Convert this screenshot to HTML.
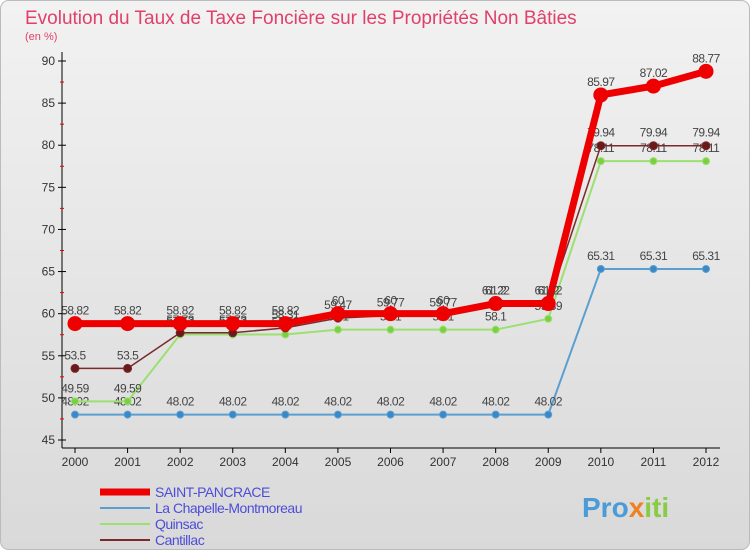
<!DOCTYPE html>
<html><head><meta charset="utf-8"><style>
body{margin:0;width:750px;height:550px;overflow:hidden;font-family:"Liberation Sans",sans-serif}
</style></head><body>
<svg width="750" height="550" xmlns="http://www.w3.org/2000/svg">
<defs><linearGradient id="bg" x1="0" y1="0" x2="0" y2="1"><stop offset="0" stop-color="#f2f2f2"/><stop offset="1" stop-color="#d9d9d9"/></linearGradient></defs>
<rect x="0.5" y="0.5" width="749" height="549" rx="8" fill="url(#bg)" stroke="#bbb"/>
<text x="25" y="24" font-size="19" fill="#e0406a">Evolution du Taux de Taxe Foncière sur les Propriétés Non Bâties</text>
<text x="25" y="40" font-size="11" fill="#e0406a">(en %)</text>
<g id="axes"></g><g id="series"></g><g id="legend"></g>
<text x="582" y="517" font-size="28" font-weight="bold" fill="#4a9bd8">Pro<tspan fill="#f08020">x</tspan><tspan fill="#8c4">iti</tspan></text>
</svg>
<script>
const years=[2000,2001,2002,2003,2004,2005,2006,2007,2008,2009,2010,2011,2012];
const yTicks=[45,50,55,60,65,70,75,80,85,90];
const saint=[58.82,58.82,58.82,58.82,58.82,60,60,60,61.2,61.2,85.97,87.02,88.77];
const chapelle=[48.02,48.02,48.02,48.02,48.02,48.02,48.02,48.02,48.02,48.02,65.31,65.31,65.31];
const quinsac=[49.59,49.59,57.52,57.52,57.52,58.1,58.1,58.1,58.1,59.39,78.11,78.11,78.11];
const cantillac=[53.5,53.5,57.73,57.73,58.31,59.47,59.77,59.77,61.22,61.22,79.94,79.94,79.94];
const NS="http://www.w3.org/2000/svg";
const X=i=>75+i*(631/12), Y=v=>440-(v-45)*(379/45);
function mk(t,a,p){const e=document.createElementNS(NS,t);for(const k in a)e.setAttribute(k,a[k]);p.appendChild(e);return e;}
const ax=document.getElementById('axes');
let l=mk('line',{x1:62,y1:52,x2:62,y2:448,stroke:'#000'},ax);


l=mk('line',{x1:62,y1:448,x2:720,y2:448,stroke:'#000'},ax);


yTicks.forEach(v=>{
 mk('line',{x1:58,y1:Y(v),x2:66,y2:Y(v),stroke:'#000'},ax);
 if(v<90)mk('line',{x1:60,y1:Y(v+2.5),x2:64,y2:Y(v+2.5),stroke:'#e00'},ax);
 const t=mk('text',{x:55,y:Y(v)+4,'font-size':12,'text-anchor':'end',fill:'#333'},ax);t.textContent=v;
 
 
});
years.forEach((y,i)=>{
 mk('line',{x1:X(i),y1:448,x2:X(i),y2:453,stroke:'#000'},ax);
 const t=mk('text',{x:X(i),y:466,'font-size':12,'text-anchor':'middle',fill:'#333'},ax);t.textContent=y;
 
 
});
const sg=document.getElementById('series');
function series(d,c,w,r,name,fill){
 const g=mk('g',{},sg);
 
 
 mk('polyline',{points:d.map((v,i)=>X(i)+','+Y(v)).join(' '),fill:'none',stroke:c,'stroke-width':w},g);
 d.forEach((v,i)=>{
  const p=mk('circle',{cx:X(i),cy:Y(v),r:r,fill:fill,stroke:c},g);
  
  
  const t=mk('text',{x:X(i),y:Y(v)-9,'font-size':12,'text-anchor':'middle',fill:'#444','letter-spacing':'-0.5'},g);t.textContent=v;
 });
}
series(chapelle,'#5b9fd0',2,3.5,'la-chapelle-series','#3a88c8');
series(quinsac,'#9be070',2,3.5,'quinsac-series','#7ad040');
series(cantillac,'#7a2a2a',1.5,4,'cantillac-series','#6a1a1a');
series(saint,'#ee0000',7,7,'saint-pancrace-series','#ee0000');
const lg=document.getElementById('legend');
[['SAINT-PANCRACE','#ee0000',7],['La Chapelle-Montmoreau','#5b9fd0',2],['Quinsac','#9be070',2],['Cantillac','#7a2a2a',2]].forEach((e,i)=>{
 const y=492+i*16;
 const g=mk('g',{},lg);
 
 
 mk('line',{x1:100,y1:y,x2:150,y2:y,stroke:e[1],'stroke-width':e[2]},g);
 const t=mk('text',{x:155,y:y+5,'font-size':14,fill:'#4d4dd8','letter-spacing':'-0.5'},g);t.textContent=e[0];
});
</script>
</body></html>
